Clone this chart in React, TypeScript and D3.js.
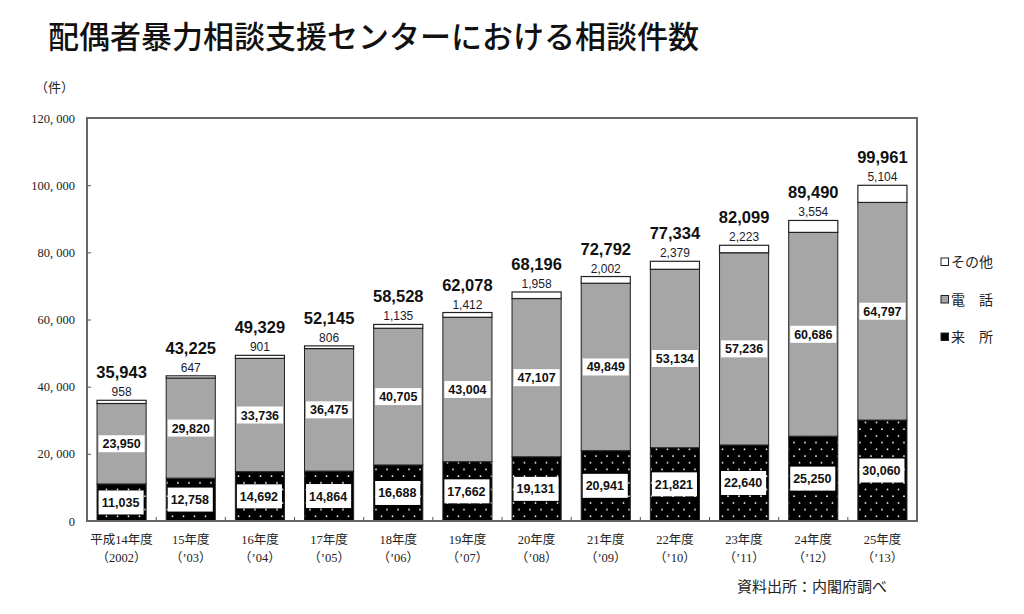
import { useEffect, useRef } from 'react';
import * as d3 from 'd3';

const years = ['平成14年度', '15年度', '16年度', '17年度', '18年度', '19年度', '20年度', '21年度', '22年度', '23年度', '24年度', '25年度'];
const yearsSub = ['（2002）', '（’03）', '（’04）', '（’05）', '（’06）', '（’07）', '（’08）', '（’09）', '（’10）', '（’11）', '（’12）', '（’13）'];
const visit = [11035, 12758, 14692, 14864, 16688, 17662, 19131, 20941, 21821, 22640, 25250, 30060];
const phone = [23950, 29820, 33736, 36475, 40705, 43004, 47107, 49849, 53134, 57236, 60686, 64797];
const other = [958, 647, 901, 806, 1135, 1412, 1958, 2002, 2379, 2223, 3554, 5104];
const yTicks = [0, 20000, 40000, 60000, 80000, 100000, 120000];
const legendItems = [
  { label: 'その他', key: 'other' },
  { label: '電　話', key: 'phone' },
  { label: '来　所', key: 'visit' },
];

const GRAY = '#a6a6a6';
const NUM_FONT = '"Liberation Sans", Arial, sans-serif';
const SERIF = '"Liberation Serif", "DejaVu Serif", "Noto Sans CJK JP", serif';
const JP = '"Noto Sans CJK JP", sans-serif';

const App = () => {
  const svgRef = useRef<SVGSVGElement>(null);

  useEffect(() => {
    if (!svgRef.current) return;
    const svg = d3.select(svgRef.current);
    svg.selectAll('*').remove();

    const width = 1024;
    const height = 614;
    const margin = { top: 118, right: 107, bottom: 93, left: 87 };
    const plotW = width - margin.left - margin.right;
    const plotH = height - margin.top - margin.bottom;

    svg.attr('width', width).attr('height', height);

    // dotted pattern for 来所
    const defs = svg.append('defs');
    const pat = defs
      .append('pattern')
      .attr('id', 'dots')
      .attr('patternUnits', 'userSpaceOnUse')
      .attr('width', 11)
      .attr('height', 13.4);
    pat.append('rect').attr('width', 11).attr('height', 13.4).attr('fill', '#000');
    pat.append('circle').attr('cx', 3).attr('cy', 3).attr('r', 0.9).attr('fill', '#fff');
    pat.append('circle').attr('cx', 8.5).attr('cy', 9.7).attr('r', 0.9).attr('fill', '#fff');

    // Title
    svg
      .append('text')
      .attr('x', 48)
      .attr('y', 48)
      .attr('font-family', JP)
      .attr('font-size', '31px')
      .attr('font-weight', 500)
      .attr('fill', '#111')
      .text('配偶者暴力相談支援センターにおける相談件数');

    svg
      .append('text')
      .attr('x', 35)
      .attr('y', 92)
      .attr('font-family', JP)
      .attr('font-size', '13px')
      .attr('fill', '#222')
      .text('（件）');

    const g = svg.append('g').attr('transform', `translate(${margin.left},${margin.top})`);

    const x = d3
      .scaleBand<number>()
      .domain(d3.range(years.length))
      .range([0, plotW])
      .paddingInner(0.29)
      .paddingOuter(0.145);

    const y = d3.scaleLinear().domain([0, 120000]).range([plotH, 0]);

    // y axis
    const fmt = (v: number) => (v === 0 ? '0' : d3.format(',')(v).replace(/,/g, ', '));
    const yAxis = g
      .append('g')
      .call(d3.axisLeft(y).tickValues(yTicks).tickSizeInner(-4).tickSizeOuter(0).tickPadding(12).tickFormat((d) => fmt(+d)));
    yAxis.select('.domain').remove();
    yAxis.selectAll('line').attr('stroke', '#555');
    yAxis
      .selectAll('text')
      .attr('font-family', SERIF)
      .attr('font-size', '12.5px')
      .attr('fill', '#222');

    // ticks between bars on the bottom
    const step = x.step();
    d3.range(1, years.length).forEach((k) => {
      g.append('line')
        .attr('x1', k * step)
        .attr('x2', k * step)
        .attr('y1', plotH)
        .attr('y2', plotH - 4)
        .attr('stroke', '#555');
    });

    // bars
    const bw = x.bandwidth();
    years.forEach((_, i) => {
      const bx = x(i)!;
      const v0 = visit[i];
      const v1 = v0 + phone[i];
      const v2 = v1 + other[i];
      const cx = bx + bw / 2;

      g.append('rect')
        .attr('x', bx)
        .attr('y', y(v0))
        .attr('width', bw)
        .attr('height', y(0) - y(v0))
        .attr('fill', 'url(#dots)')
        .attr('stroke', '#222')
        .attr('stroke-width', 1);

      g.append('rect')
        .attr('x', bx)
        .attr('y', y(v1))
        .attr('width', bw)
        .attr('height', y(v0) - y(v1))
        .attr('fill', GRAY)
        .attr('stroke', '#222')
        .attr('stroke-width', 1);

      g.append('rect')
        .attr('x', bx)
        .attr('y', y(v2))
        .attr('width', bw)
        .attr('height', y(v1) - y(v2))
        .attr('fill', '#fff')
        .attr('stroke', '#222')
        .attr('stroke-width', 1.2);

      // 来所 label
      const cy0 = (y(0) + y(v0)) / 2;
      const boxH0 = Math.min(24, y(0) - y(v0) - 10);
      g.append('rect')
        .attr('x', bx + 1.5)
        .attr('y', cy0 - boxH0 / 2)
        .attr('width', bw - 4)
        .attr('height', boxH0)
        .attr('fill', '#fff');
      g.append('text')
        .attr('x', cx - 1)
        .attr('y', cy0)
        .attr('dy', '0.36em')
        .attr('text-anchor', 'middle')
        .attr('font-family', NUM_FONT)
        .attr('font-weight', 'bold')
        .attr('font-size', '12.5px')
        .attr('fill', '#111')
        .text(d3.format(',')(v0));

      // 電話 label
      const cy1 = (y(v0) + y(v1)) / 2;
      g.append('rect')
        .attr('x', bx + 1.5)
        .attr('y', cy1 - 8.5)
        .attr('width', bw - 3)
        .attr('height', 17)
        .attr('fill', '#fff');
      g.append('text')
        .attr('x', cx)
        .attr('y', cy1)
        .attr('dy', '0.36em')
        .attr('text-anchor', 'middle')
        .attr('font-family', NUM_FONT)
        .attr('font-weight', 'bold')
        .attr('font-size', '12.5px')
        .attr('fill', '#111')
        .text(d3.format(',')(phone[i]));

      // その他 label
      g.append('text')
        .attr('x', cx)
        .attr('y', y(v2) - 4)
        .attr('text-anchor', 'middle')
        .attr('font-family', NUM_FONT)
        .attr('font-size', '12px')
        .attr('fill', '#1a1a2e')
        .text(d3.format(',')(other[i]));

      // total
      g.append('text')
        .attr('x', cx)
        .attr('y', y(v2) - 22)
        .attr('text-anchor', 'middle')
        .attr('font-family', NUM_FONT)
        .attr('font-weight', 'bold')
        .attr('font-size', '16.5px')
        .attr('fill', '#111')
        .text(d3.format(',')(v2));

      // x labels
      g.append('text')
        .attr('x', cx)
        .attr('y', plotH + 23)
        .attr('text-anchor', 'middle')
        .attr('font-family', SERIF)
        .attr('font-size', '12.5px')
        .attr('fill', '#222')
        .text(years[i]);
      g.append('text')
        .attr('x', cx)
        .attr('y', plotH + 41)
        .attr('text-anchor', 'middle')
        .attr('font-family', SERIF)
        .attr('font-size', '12.5px')
        .attr('fill', '#222')
        .text(yearsSub[i]);
    });

    // frame
    g.append('rect')
      .attr('x', 0)
      .attr('y', 0)
      .attr('width', plotW)
      .attr('height', plotH)
      .attr('fill', 'none')
      .attr('stroke', '#666')
      .attr('stroke-width', 2);

    // legend
    const lg = svg.append('g').attr('transform', 'translate(941,262)');
    legendItems.forEach((item, k) => {
      const ly = k * 37.5;
      const fill = item.key === 'other' ? '#fff' : item.key === 'phone' ? GRAY : '#000';
      lg.append('rect')
        .attr('x', 0)
        .attr('y', ly - 4)
        .attr('width', 7.5)
        .attr('height', 7.5)
        .attr('fill', fill)
        .attr('stroke', '#222')
        .attr('stroke-width', 1);
      lg.append('text')
        .attr('x', 10)
        .attr('y', ly)
        .attr('dy', '0.36em')
        .attr('font-family', SERIF)
        .attr('font-size', '14px')
        .attr('fill', '#222')
        .text(item.label);
    });

    // source
    svg
      .append('text')
      .attr('x', 737)
      .attr('y', 592)
      .attr('font-family', JP)
      .attr('font-size', '15px')
      .attr('fill', '#222')
      .text('資料出所：内閣府調べ');
  }, []);

  return <svg ref={svgRef} style={{ position: 'absolute', left: 0, top: 0, background: '#fff' }} />;
};

export default App;
